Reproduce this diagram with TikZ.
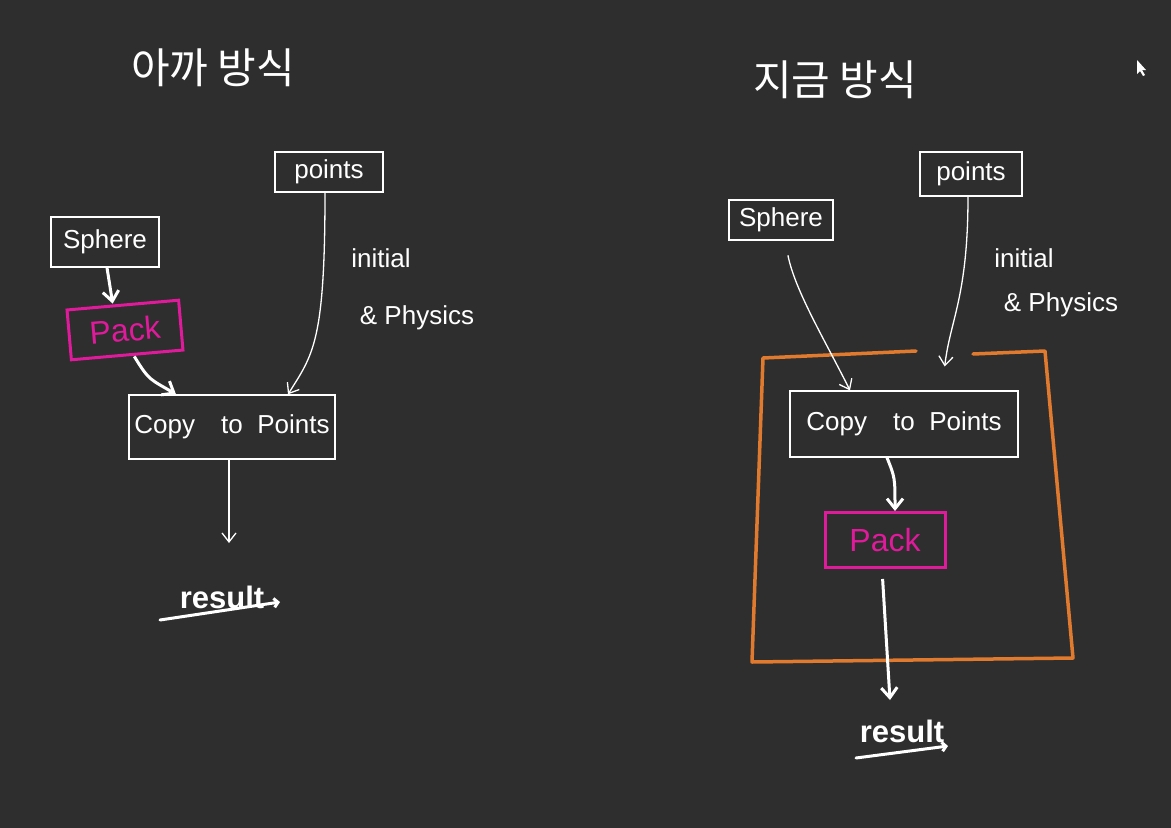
\documentclass[tikz,border=0pt]{standalone}
\usepackage{fontspec}
\setmainfont{Liberation Sans}
\newfontfamily\kr{Noto Sans CJK KR}
\usetikzlibrary{arrows.meta}
\definecolor{bg}{HTML}{2E2E2E}
\definecolor{mag}{HTML}{DF1A9B}
\definecolor{org}{HTML}{E07A2E}
\begin{document}
\begin{tikzpicture}[x=1pt,y=-1pt,
  box/.style={draw=white, line width=1.3pt, text=white, font=\fontsize{26}{28}\selectfont, inner sep=0pt},
  packbox/.style={draw=mag, line width=3pt, text=mag, font=\fontsize{32}{34}\selectfont, inner sep=0pt},
  conn/.style={draw=white, line width=1.3pt, -{Straight Barb[length=9pt,width=14pt]}},
  connthick/.style={draw=white, line width=3pt, -{Straight Barb[length=10pt,width=16pt]}},
  lbl/.style={text=white, font=\fontsize{26}{28}\selectfont},
  reslbl/.style={text=white, font=\bfseries\fontsize{31}{33}\selectfont},
  uline/.style={draw=white, line width=3pt, line cap=round, -{Straight Barb[length=4pt,width=9pt]}},
  titlelbl/.style={text=white, font=\kr\fontsize{42}{44}\selectfont}
]
\fill[bg] (0,0) rectangle (1171,828);

% ---------- left ----------
\node[titlelbl] (t1) at (213,68) {아까 방식};
\node[box, minimum width=108, minimum height=40] (ptsL) at (329,172) {points};
\node[box, minimum width=108, minimum height=50] (sphL) at (105,242) {Sphere};
\node[packbox, minimum width=112, minimum height=50, rotate=5] (packL) at (125,330) {Pack};
\node[box, minimum width=206, minimum height=64] (cpL) at (232,427) {Copy\quad to\; Points};
\node[lbl] (iniL) at (381,258) {initial};
\node[lbl] (phyL) at (417,318) {\& Physics};
\node[reslbl] (resL) at (222,597) {result};
\coordinate (endL) at (229,543);

\draw[connthick] ([xshift=2]sphL.south) -- ([xshift=-10]packL.north);
\draw[connthick] ([xshift=7]packL.south) .. controls +(15,25) and +(-25,-15) .. ([xshift=-56]cpL.north);
\draw[conn] ([xshift=-4]ptsL.south) .. controls +(0,150) and +(25,-40) .. ([xshift=56]cpL.north);
\draw[conn] ([xshift=-3]cpL.south) -- (endL);
\draw[uline] ([xshift=-62,yshift=-23]resL.center) -- ([xshift=58,yshift=-5]resL.center);

% ---------- right ----------
\node[titlelbl] (t2) at (835,80) {지금 방식};
\node[box, minimum width=102, minimum height=44] (ptsR) at (971,174) {points};
\node[box, minimum width=104, minimum height=40] (sphR) at (781,220) {Sphere};
\node[box, minimum width=228, minimum height=66] (cpR) at (904,424) {Copy\quad to\; Points};
\node[packbox, minimum width=120, minimum height=55] (packR) at (885,540) {Pack};
\node[lbl] (iniR) at (1024,258) {initial};
\node[lbl] (phyR) at (1061,305) {\& Physics};
\node[reslbl] (resR) at (902,731) {result};
\coordinate (endR) at (890,700);

\draw[org, line width=3.5pt, line join=round, line cap=round]
  (916,351) -- (763,358) -- (752,662) -- (1073,658) -- (1045,351) -- (973,354);

\draw[conn, shorten <=15pt] ([xshift=4]sphR.south) .. controls +(10,50) and +(-25,-50) .. ([xshift=-54]cpR.north);
\draw[conn, shorten >=24pt] ([xshift=-3]ptsR.south) .. controls +(0,100) and +(8,-70) .. ([xshift=38]cpR.north);
\draw[connthick] ([xshift=-17]cpR.south) .. controls +(8,20) .. ([xshift=10]packR.north);
\draw[connthick, shorten <=10pt] ([xshift=-3]packR.south) -- (endR);
\draw[uline] ([xshift=-46,yshift=-27]resR.center) -- ([xshift=46,yshift=-15]resR.center);

% cursor
\fill[white] (1137,60) -- (1137,74) -- (1140,71) -- (1143,76) -- (1145,75) -- (1142,70) -- (1146,70) -- cycle;
\end{tikzpicture}
\end{document}
